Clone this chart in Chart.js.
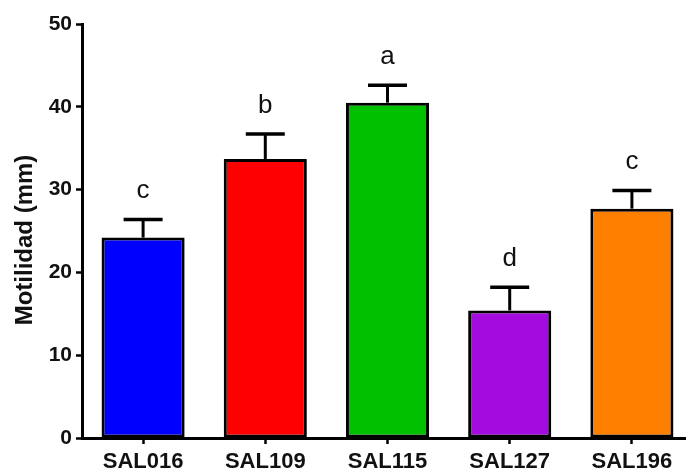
<!DOCTYPE html>
<html>
<head>
<meta charset="utf-8">
<script src="https://cdn.jsdelivr.net/npm/chart.js@4"></script>
<style>
    html, body { margin: 0; padding: 0; background: #fff; overflow: hidden; }
    #wrap { width: 700px; height: 471px; }
</style>
</head>
<body>
<div id="wrap"><canvas id="motilidad_chart" width="700" height="471"></canvas></div>
<script>
// Strains
const cepas = ["SAL016", "SAL109", "SAL115", "SAL127", "SAL196"]
// Mean motility (mm) per strain
const medias = [24.2, 33.7, 40.5, 15.4, 27.7]
// Standard deviation (upper bar only)
const desviaciones = [2.2, 3.0, 2.1, 2.8, 2.2]
// Significance groups
const letras = ["c", "b", "a", "d", "c"]
const colores = ["#0000FF", "#FF0000", "#00C000", "#A30BDF", "#FF8000"]
const yTicks = [0, 10, 20, 30, 40, 50]
const tituloY = "Motilidad (mm)"

const fuente = "'Liberation Sans', Arial, Helvetica, sans-serif"

// Error bars + letters on top of each bar, y title on the left
const errorBars = {
    id: "errorBars",
    afterDatasetsDraw(chart) {
        const ctx = chart.ctx
        const x = chart.scales.x
        const y = chart.scales.y
        ctx.save()
        ctx.strokeStyle = "#000"
        medias.forEach((m, i) => {
            const px = x.getPixelForValue(i)
            const yTop = y.getPixelForValue(m)
            const yErr = y.getPixelForValue(m + desviaciones[i])
            // stem
            ctx.lineWidth = 3
            ctx.beginPath()
            ctx.moveTo(px, yTop)
            ctx.lineTo(px, yErr)
            ctx.stroke()
            // cap
            ctx.lineWidth = 3.5
            ctx.beginPath()
            ctx.moveTo(px - 19.5, yErr)
            ctx.lineTo(px + 19.5, yErr)
            ctx.stroke()
            // letter
            ctx.fillStyle = "#111"
            ctx.font = "26px " + fuente
            ctx.textAlign = "center"
            ctx.textBaseline = "alphabetic"
            ctx.fillText(letras[i], px, yErr - 21)
        })
        // axis title, rotated
        ctx.translate(25, 240)
        ctx.rotate(-Math.PI / 2)
        ctx.fillStyle = "#111"
        ctx.font = "bold 24px " + fuente
        ctx.textAlign = "center"
        ctx.textBaseline = "middle"
        ctx.fillText(tituloY, 0, 0)
        ctx.restore()
    }
}

const ctx = document.getElementById("motilidad_chart").getContext("2d")
new Chart(ctx, {
    type: "bar",
    data: {
        labels: cepas,
        datasets: [{
            data: medias,
            backgroundColor: colores,
            borderColor: "#000",
            borderWidth: 3,
            borderSkipped: false,
            barPercentage: 0.68,
            categoryPercentage: 1
        }]
    },
    options: {
        responsive: false,
        animation: false,
        devicePixelRatio: 1,
        layout: {
            padding: { top: 24, right: 7, bottom: 0, left: 0 }
        },
        plugins: {
            legend: { display: false },
            tooltip: { enabled: false }
        },
        scales: {
            x: {
                grid: {
                    offset: false,
                    drawOnChartArea: false,
                    tickLength: 6,
                    tickWidth: 2.5,
                    tickColor: "#000"
                },
                border: { display: true, color: "#000", width: 3 },
                ticks: {
                    color: "#111",
                    padding: 5,
                    font: { family: fuente, size: 22, weight: "bold" }
                },
                afterFit: scale => { scale.height = 33 }
            },
            y: {
                min: 0,
                max: 50,
                afterBuildTicks: scale => { scale.ticks = yTicks.map(v => ({ value: v })) },
                grid: {
                    drawOnChartArea: false,
                    tickLength: 6,
                    tickWidth: 2.5,
                    tickColor: "#000"
                },
                border: { display: true, color: "#000", width: 3 },
                ticks: {
                    color: "#111",
                    padding: 4,
                    font: { family: fuente, size: 21, weight: "bold" }
                },
                afterFit: scale => { scale.width = 82 }
            }
        }
    },
    plugins: [errorBars]
})
</script>
</body>
</html>
